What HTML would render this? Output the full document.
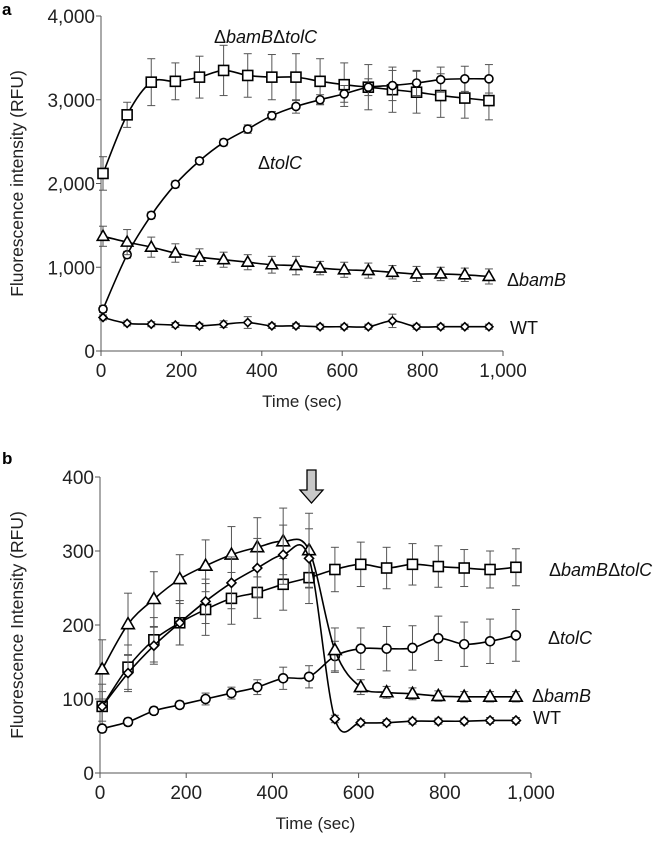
<!DOCTYPE html>
<html><head><meta charset="utf-8"><style>
html,body{margin:0;padding:0;background:#fff}
svg{display:block;font-family:"Liberation Sans",Arial,sans-serif}
</style></head><body>
<svg id="fig" width="668" height="844" viewBox="0 0 668 844">
<g id="pa"></g>
<g id="pb"></g>
</svg>
<script>
const NS="http://www.w3.org/2000/svg";
const times=[5,65,125,185,245,305,365,425,485,545,605,665,725,785,845,905,965];
// Panel a
const aSquare=[2120,2820,3210,3220,3270,3350,3290,3270,3270,3220,3180,3150,3120,3090,3050,3020,2990];
const aSquareErr=[200,150,280,220,250,300,260,270,280,270,260,270,270,250,260,240,230];
const aCircle=[500,1150,1620,1990,2270,2490,2650,2810,2920,3000,3070,3150,3170,3200,3240,3250,3250];
const aCircleErr=[40,40,40,40,40,40,50,50,80,60,100,100,180,150,150,150,170];
const aTri=[1370,1300,1240,1170,1120,1090,1060,1030,1020,990,970,960,940,920,920,910,890];
const aTriErr=[120,150,120,110,100,90,90,100,110,80,90,90,80,90,80,80,90];
const aDia=[400,330,320,310,300,320,340,300,300,290,290,290,360,290,290,290,290];
const aDiaErr=[30,30,30,30,30,40,70,30,30,30,30,30,80,30,30,30,30];
const aYTicks=[0,1000,2000,3000,4000];
const aYLabels=["0","1,000","2,000","3,000","4,000"];
const xTicks=[0,200,400,600,800,1000];
const xLabels=["0","200","400","600","800","1,000"];
// Panel b
const bSquare=[90,143,180,203,221,236,244,255,264,275,282,277,282,279,277,275,278];
const bSquareErr=[30,30,30,30,35,35,35,35,35,30,30,28,28,28,25,25,25];
const bCircle=[60,69,84,92,100,108,116,128,130,158,168,168,169,182,174,178,186];
const bCircleErr=[5,5,5,5,8,8,10,15,15,20,28,30,30,30,30,30,35];
const bTri=[140,201,235,262,280,295,305,313,301,166,116,109,107,104,103,103,103];
const bTriErr=[40,42,37,33,35,38,40,45,50,30,10,8,8,7,7,7,7];
const bDia=[90,135,172,203,232,257,277,295,290,73,68,68,70,70,70,71,71];
const bDiaErr=[20,25,25,30,30,35,40,40,40,5,4,4,4,4,4,4,4];
const bYTicks=[0,100,200,300,400];
const bYLabels=["0","100","200","300","400"];

function el(parent,tag,attrs,text){const e=document.createElementNS(NS,tag);for(const k in attrs)e.setAttribute(k,attrs[k]);if(text!==undefined)e.textContent=text;parent.appendChild(e);return e;}
function spline(pts){let d="M"+pts[0][0]+","+pts[0][1];for(let i=0;i<pts.length-1;i++){const p0=pts[Math.max(0,i-1)],p1=pts[i],p2=pts[i+1],p3=pts[Math.min(pts.length-1,i+2)];const c1=[p1[0]+(p2[0]-p0[0])/6,p1[1]+(p2[1]-p0[1])/6];const c2=[p2[0]-(p3[0]-p1[0])/6,p2[1]-(p3[1]-p1[1])/6];d+="C"+c1+" "+c2+" "+p2;}return d;}
function marker(g,shape,x,y,s){
 const st={fill:"#fff",stroke:"#000","stroke-width":1.6};let m;
 if(shape==="square")m=el(g,"rect",Object.assign({x:x-s,y:y-s,width:2*s,height:2*s},st));
 else if(shape==="circle")m=el(g,"circle",Object.assign({cx:x,cy:y,r:s},st));
 else if(shape==="tri")m=el(g,"polygon",Object.assign({points:`${x},${y-s*1.2} ${x-s*1.15},${y+s*0.8} ${x+s*1.15},${y+s*0.8}`},st));
 else m=el(g,"polygon",Object.assign({points:`${x},${y-s} ${x+s},${y} ${x},${y+s} ${x-s},${y}`},st));
 
 
}
function panel(g,cfg){
 const X=v=>cfg.x0+(v/1000)*(cfg.x1-cfg.x0);
 const Y=v=>cfg.y0-(v/cfg.ymax)*(cfg.y0-cfg.y1);
 const ax=el(g,"g",{});
 
 el(ax,"line",{x1:cfg.x0,y1:cfg.y0,x2:cfg.x0,y2:cfg.y1,stroke:"#555","stroke-width":1});
 el(ax,"line",{x1:cfg.x0,y1:cfg.y0,x2:cfg.x1,y2:cfg.y0,stroke:"#555","stroke-width":1});
 cfg.yt.forEach((v,i)=>{el(ax,"line",{x1:cfg.x0-5,x2:cfg.x0,y1:Y(v),y2:Y(v),stroke:"#555"});
  const t=el(ax,"text",{x:cfg.x0-6,y:Y(v)+7,"text-anchor":"end","font-size":19,fill:"#222"},cfg.yl[i]);
  });
 xTicks.forEach((v,i)=>{el(ax,"line",{x1:X(v),x2:X(v),y1:cfg.y0,y2:cfg.y0+5,stroke:"#555"});
  const t=el(ax,"text",{x:X(v),y:cfg.y0+26,"text-anchor":"middle","font-size":19,fill:"#222"},xLabels[i]);
  });
 const xt=el(ax,"text",{x:(cfg.x0+cfg.x1)/2,y:cfg.y0+56,"text-anchor":"middle","font-size":17,fill:"#222"},"Time (sec)");
 
 const yc=(cfg.y0+cfg.y1)/2;
 const yt=el(ax,"text",{x:23,y:yc,transform:`rotate(-90 23 ${yc})`,"text-anchor":"middle","font-size":17.5,fill:"#222"},cfg.ytitle);
 
 cfg.series.forEach(s=>{
  const sg=el(g,"g",{});
  
  times.forEach((t,i)=>{const x=X(t),a=Y(s.v[i]+s.e[i]),b=Y(s.v[i]-s.e[i]);
   el(sg,"line",{x1:x,x2:x,y1:a,y2:b,stroke:"#555","stroke-width":1});
   el(sg,"line",{x1:x-4,x2:x+4,y1:a,y2:a,stroke:"#555","stroke-width":1});
   el(sg,"line",{x1:x-4,x2:x+4,y1:b,y2:b,stroke:"#555","stroke-width":1});});
  const pts=times.map((t,i)=>[X(t),Y(s.v[i])]);
  el(sg,"path",{d:spline(pts),fill:"none",stroke:"#000","stroke-width":1.6});
  pts.forEach(p=>marker(sg,s.shape,p[0],p[1],s.size));
 });
}
function label(parent,x,y,parts,name){
 const t=el(parent,"text",{x:x,y:y,"font-size":18,fill:"#111"});
 
 parts.forEach(p=>{el(t,"tspan",p[1]?{"font-style":"italic"}:{},p[0]);});
}
const pa=document.getElementById("pa"),pb=document.getElementById("pb");
panel(pa,{x0:101,x1:503,y0:351,y1:16,ymax:4000,yt:aYTicks,yl:aYLabels,ytitle:"Fluorescence intensity (RFU)",
 series:[{name:"dbamb-dtolc",shape:"square",v:aSquare,e:aSquareErr,size:5},
 {name:"dtolc",shape:"circle",v:aCircle,e:aCircleErr,size:4},
 {name:"dbamb",shape:"tri",v:aTri,e:aTriErr,size:5},
 {name:"wt",shape:"dia",v:aDia,e:aDiaErr,size:4}]});
panel(pb,{x0:100,x1:531,y0:773,y1:477,ymax:400,yt:bYTicks,yl:bYLabels,ytitle:"Fluorescence Intensity (RFU)",
 series:[{name:"dbamb-dtolc",shape:"square",v:bSquare,e:bSquareErr,size:5},
 {name:"dtolc",shape:"circle",v:bCircle,e:bCircleErr,size:4.5},
 {name:"dbamb",shape:"tri",v:bTri,e:bTriErr,size:5.5},
 {name:"wt",shape:"dia",v:bDia,e:bDiaErr,size:4.5}]});
const ta=el(pa,"text",{x:2,y:15,"font-size":17,"font-weight":"bold"},"a");
const tb=el(pb,"text",{x:2,y:464,"font-size":17,"font-weight":"bold"},"b");
label(pa,214,43,[["Δ",0],["bamB",1],["Δ",0],["tolC",1]],"label-a-dbamb-dtolc");
label(pa,258,169,[["Δ",0],["tolC",1]],"label-a-dtolc");
label(pa,507,286,[["Δ",0],["bamB",1]],"label-a-dbamb");
label(pa,510,334,[["WT",0]],"label-a-wt");
label(pb,549,576,[["Δ",0],["bamB",1],["Δ",0],["tolC",1]],"label-b-dbamb-dtolc");
label(pb,548,644,[["Δ",0],["tolC",1]],"label-b-dtolc");
label(pb,532,702,[["Δ",0],["bamB",1]],"label-b-dbamb");
label(pb,533,724,[["WT",0]],"label-b-wt");
const ar=el(pb,"polygon",{points:"307,470 316,470 316,490 323,490 311.5,503 300,490 307,490",fill:"#c8c8c8",stroke:"#000","stroke-width":1.3});

</script>
</body></html>
